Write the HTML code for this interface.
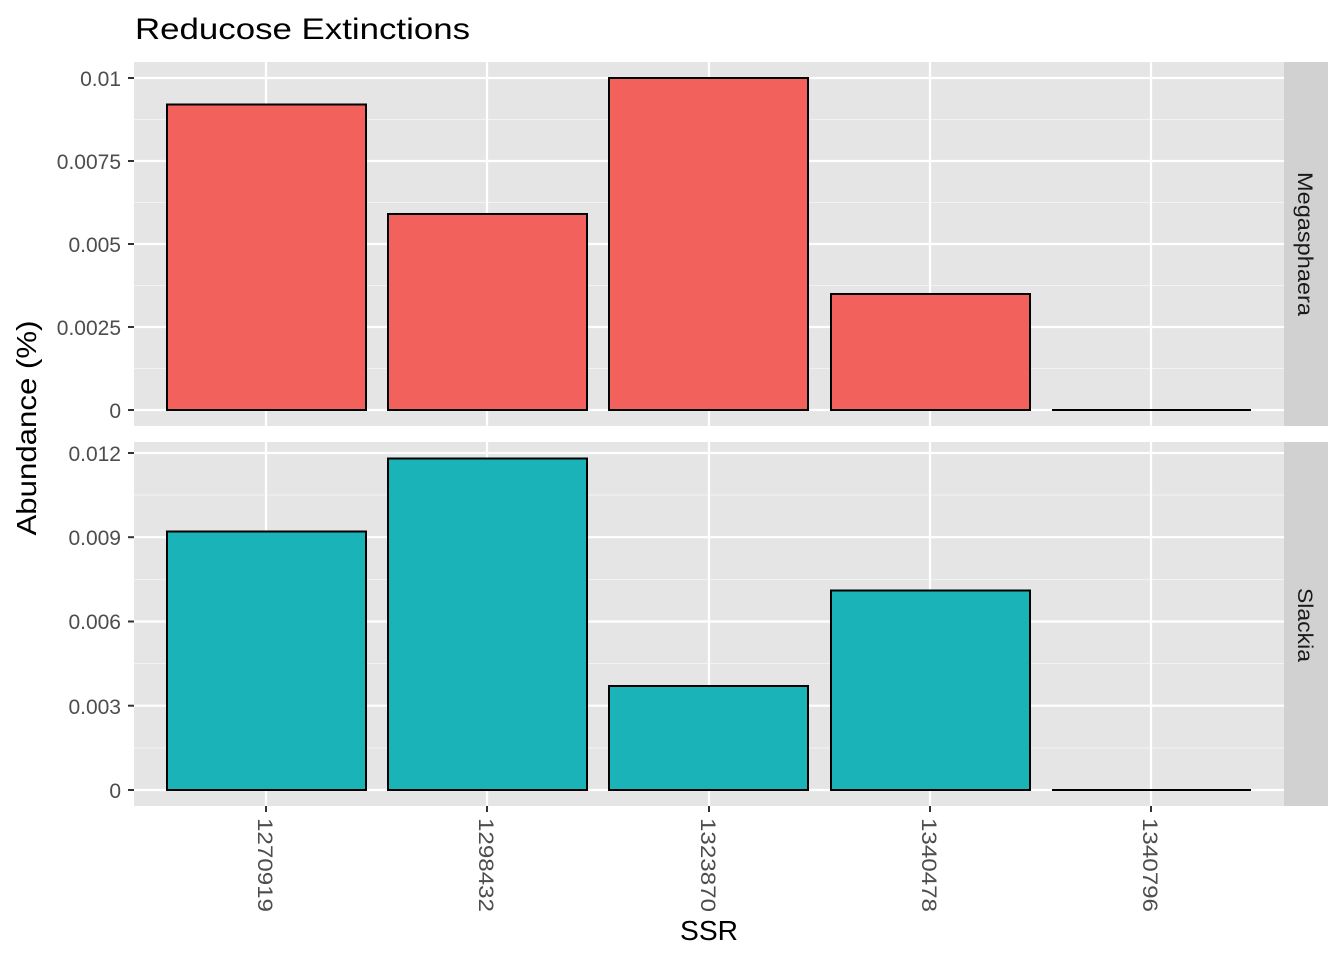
<!DOCTYPE html>
<html><head><meta charset="utf-8"><style>body{margin:0;background:#fff}svg{display:block}</style></head>
<body>
<svg width="1344" height="960" xmlns="http://www.w3.org/2000/svg" font-family="Liberation Sans, Arial, sans-serif">
<rect width="1344" height="960" fill="#fff"/>
<text x="135" y="39" font-size="30" fill="#000" textLength="335" lengthAdjust="spacingAndGlyphs">Reducose Extinctions</text>
<rect x="134" y="62" width="1150" height="364" fill="#e5e5e5"/>
<g stroke="#f2f2f2" stroke-width="1.1">
<line x1="134" x2="1284" y1="368.5" y2="368.5"/><line x1="134" x2="1284" y1="285.5" y2="285.5"/>
<line x1="134" x2="1284" y1="202.5" y2="202.5"/><line x1="134" x2="1284" y1="119.5" y2="119.5"/>
</g>
<g stroke="#fff" stroke-width="2.2">
<line x1="134" x2="1284" y1="410" y2="410"/><line x1="134" x2="1284" y1="327" y2="327"/>
<line x1="134" x2="1284" y1="244" y2="244"/><line x1="134" x2="1284" y1="161" y2="161"/>
<line x1="134" x2="1284" y1="78" y2="78"/>
<line x1="266" x2="266" y1="62" y2="426"/><line x1="487" x2="487" y1="62" y2="426"/>
<line x1="709" x2="709" y1="62" y2="426"/><line x1="930" x2="930" y1="62" y2="426"/>
<line x1="1151" x2="1151" y1="62" y2="426"/>
</g>
<g fill="#f3615c" stroke="#000" stroke-width="2">
<rect x="167" y="104.5" width="199" height="305.5"/>
<rect x="388" y="214" width="199" height="196"/>
<rect x="609" y="78" width="199" height="332"/>
<rect x="831" y="294" width="199" height="116"/>
<line x1="1052" x2="1251" y1="410" y2="410"/>
</g>
<rect x="1284" y="62" width="44" height="364" fill="#d1d1d1"/>
<text transform="translate(1298,244) rotate(90)" text-anchor="middle" font-size="21" fill="#1a1a1a" textLength="144" lengthAdjust="spacingAndGlyphs">Megasphaera</text>
<rect x="134" y="442" width="1150" height="364" fill="#e5e5e5"/>
<g stroke="#f2f2f2" stroke-width="1.1">
<line x1="134" x2="1284" y1="748" y2="748"/><line x1="134" x2="1284" y1="663.5" y2="663.5"/>
<line x1="134" x2="1284" y1="579.5" y2="579.5"/><line x1="134" x2="1284" y1="495" y2="495"/>
</g>
<g stroke="#fff" stroke-width="2.2">
<line x1="134" x2="1284" y1="790" y2="790"/><line x1="134" x2="1284" y1="705.7" y2="705.7"/>
<line x1="134" x2="1284" y1="621.5" y2="621.5"/><line x1="134" x2="1284" y1="537.2" y2="537.2"/>
<line x1="134" x2="1284" y1="453" y2="453"/>
<line x1="266" x2="266" y1="442" y2="806"/><line x1="487" x2="487" y1="442" y2="806"/>
<line x1="709" x2="709" y1="442" y2="806"/><line x1="930" x2="930" y1="442" y2="806"/>
<line x1="1151" x2="1151" y1="442" y2="806"/>
</g>
<g fill="#1ab3b8" stroke="#000" stroke-width="2">
<rect x="167" y="531.5" width="199" height="258.5"/>
<rect x="388" y="458.5" width="199" height="331.5"/>
<rect x="609" y="686" width="199" height="104"/>
<rect x="831" y="590.5" width="199" height="199.5"/>
<line x1="1052" x2="1251" y1="790" y2="790"/>
</g>
<rect x="1284" y="442" width="44" height="364" fill="#d1d1d1"/>
<text transform="translate(1298,625) rotate(90)" text-anchor="middle" font-size="21" fill="#1a1a1a" textLength="74" lengthAdjust="spacingAndGlyphs">Slackia</text>
<g stroke="#333" stroke-width="2">
<line x1="128" x2="134" y1="410" y2="410"/><line x1="128" x2="134" y1="327" y2="327"/>
<line x1="128" x2="134" y1="244" y2="244"/><line x1="128" x2="134" y1="161" y2="161"/>
<line x1="128" x2="134" y1="78" y2="78"/>
<line x1="128" x2="134" y1="790" y2="790"/><line x1="128" x2="134" y1="705.7" y2="705.7"/>
<line x1="128" x2="134" y1="621.5" y2="621.5"/><line x1="128" x2="134" y1="537.2" y2="537.2"/>
<line x1="128" x2="134" y1="453" y2="453"/>
<line x1="266" x2="266" y1="806" y2="812"/><line x1="487" x2="487" y1="806" y2="812"/>
<line x1="709" x2="709" y1="806" y2="812"/><line x1="930" x2="930" y1="806" y2="812"/>
<line x1="1151" x2="1151" y1="806" y2="812"/>
</g>
<g font-size="21" fill="#4d4d4d" text-anchor="end">
<text x="121" y="418">0</text><text x="121" y="335">0.0025</text><text x="121" y="252">0.005</text>
<text x="121" y="169">0.0075</text><text x="121" y="86">0.01</text>
<text x="121" y="798">0</text><text x="121" y="714">0.003</text><text x="121" y="629">0.006</text>
<text x="121" y="545">0.009</text><text x="121" y="461">0.012</text>
</g>
<g font-size="21" fill="#4d4d4d">
<text transform="translate(258,818) rotate(90)" textLength="94" lengthAdjust="spacingAndGlyphs">1270919</text>
<text transform="translate(479,818) rotate(90)" textLength="94" lengthAdjust="spacingAndGlyphs">1298432</text>
<text transform="translate(701,818) rotate(90)" textLength="94" lengthAdjust="spacingAndGlyphs">1323870</text>
<text transform="translate(922,818) rotate(90)" textLength="94" lengthAdjust="spacingAndGlyphs">1340478</text>
<text transform="translate(1143,818) rotate(90)" textLength="94" lengthAdjust="spacingAndGlyphs">1340796</text>
</g>
<text x="709" y="940" text-anchor="middle" font-size="28" fill="#000" textLength="58" lengthAdjust="spacingAndGlyphs">SSR</text>
<text transform="translate(36,428) rotate(-90)" text-anchor="middle" font-size="28" fill="#000" textLength="215" lengthAdjust="spacingAndGlyphs">Abundance (%)</text>
</svg>
</body></html>
